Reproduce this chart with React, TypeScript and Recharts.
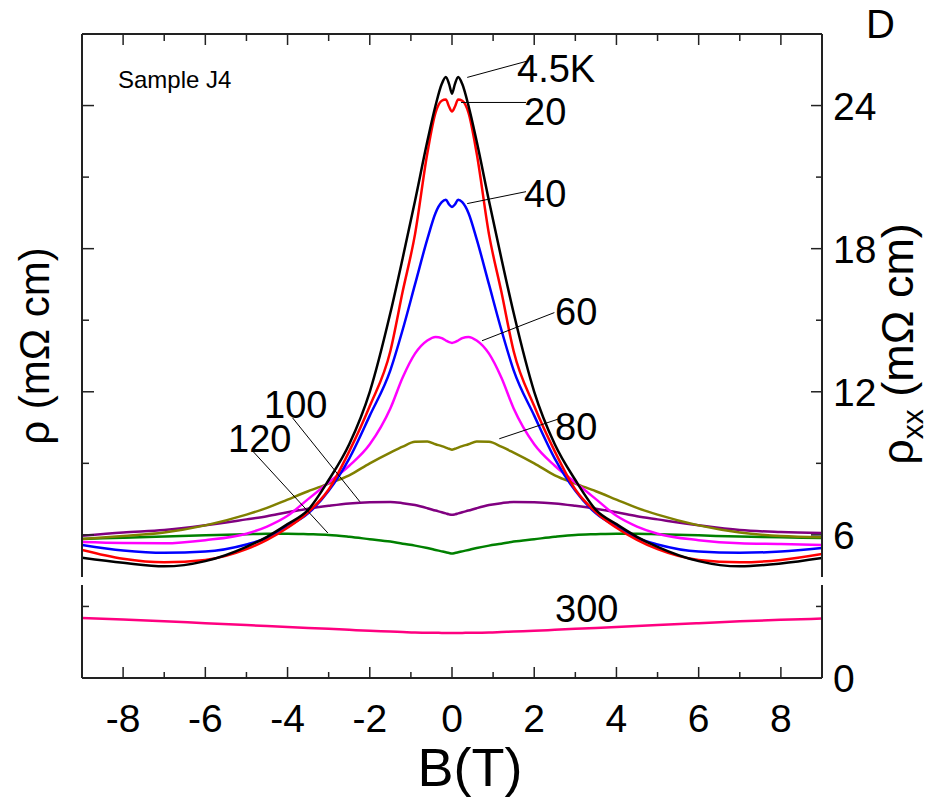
import { LineChart, Line, XAxis, YAxis, ReferenceLine } from 'recharts'

// magnetic field B (T)
const fieldB = [-9, -8, -7, -6, -5, -4.5, -4, -3.5, -3, -2.5, -2, -1.5, -1.2, -0.9, -0.6, -0.4, -0.25, -0.15, -0.07, 0,
  0.07, 0.15, 0.25, 0.4, 0.6, 0.9, 1.2, 1.5, 2, 2.5, 3, 3.5, 4, 4.5, 5, 6, 7, 8, 9]

// rho (mOhm cm) per temperature
const rho4K = [5.04, 4.83, 4.68, 4.9, 5.5, 5.92, 6.45, 7.05, 8.3, 9.8, 12.0, 15.3, 17.6, 20.0, 22.5, 24.0, 24.9, 25.2, 24.9, 24.5,
  24.9, 25.2, 24.9, 24.0, 22.5, 20.0, 17.6, 15.3, 12.0, 9.8, 8.3, 7.05, 6.45, 5.92, 5.5, 4.9, 4.68, 4.8, 5.03]
const rho20K = [5.37, 5.0, 4.85, 4.95, 5.4, 5.79, 6.3, 6.95, 7.9, 9.5, 11.4, 13.7, 16.2, 18.6, 22.0, 23.7, 24.2, 24.25, 23.95, 23.75,
  23.95, 24.25, 24.2, 23.7, 22.0, 18.6, 16.2, 13.7, 11.4, 9.5, 7.9, 6.95, 6.3, 5.79, 5.4, 4.95, 4.85, 4.95, 5.2]
const rho40K = [5.58, 5.35, 5.25, 5.3, 5.6, 5.87, 6.35, 6.9, 7.85, 9.2, 11.0, 12.9, 14.6, 16.5, 18.4, 19.5, 19.95, 20.05, 19.85, 19.75,
  19.85, 20.05, 19.95, 19.5, 18.4, 16.5, 14.6, 12.9, 11.0, 9.2, 7.85, 6.9, 6.35, 5.87, 5.6, 5.3, 5.25, 5.3, 5.45]
const rho60K = [5.7, 5.66, 5.65, 5.78, 6.05, 6.35, 6.8, 7.5, 8.2, 8.9, 9.8, 11.3, 12.6, 13.6, 14.15, 14.3, 14.25, 14.15, 14.08, 14.05,
  14.08, 14.15, 14.25, 14.3, 14.15, 13.6, 12.6, 11.3, 9.8, 8.9, 8.2, 7.5, 6.8, 6.35, 6.05, 5.78, 5.65, 5.62, 5.58]
const rho80K = [5.83, 5.95, 6.1, 6.4, 6.85, 7.13, 7.48, 7.83, 8.15, 8.5, 9.0, 9.45, 9.7, 9.9, 9.92, 9.8, 9.72, 9.66, 9.61, 9.57,
  9.61, 9.66, 9.72, 9.8, 9.92, 9.9, 9.7, 9.45, 9.0, 8.5, 8.15, 7.83, 7.48, 7.13, 6.85, 6.4, 6.1, 5.95, 5.9]
const rho100K = [5.96, 6.1, 6.2, 6.4, 6.65, 6.78, 6.95, 7.1, 7.22, 7.32, 7.37, 7.38, 7.33, 7.25, 7.12, 7.02, 6.95, 6.9, 6.86, 6.84,
  6.86, 6.9, 6.95, 7.02, 7.12, 7.25, 7.33, 7.38, 7.37, 7.32, 7.22, 7.1, 6.95, 6.78, 6.65, 6.4, 6.2, 6.12, 6.08]
const rho120K = [5.83, 5.88, 5.93, 5.98, 6.03, 6.05, 6.05, 6.03, 6.0, 5.92, 5.82, 5.72, 5.63, 5.55, 5.45, 5.37, 5.31, 5.27, 5.24, 5.22,
  5.24, 5.27, 5.31, 5.37, 5.45, 5.55, 5.63, 5.72, 5.82, 5.92, 6.0, 6.03, 6.05, 6.05, 6.03, 5.98, 5.93, 5.9, 5.87]
const rho300K = [2.52, 2.45, 2.38, 2.3, 2.22, 2.18, 2.14, 2.1, 2.06, 2.02, 1.98, 1.95, 1.93, 1.91, 1.9, 1.9, 1.89, 1.89, 1.89, 1.89,
  1.89, 1.89, 1.89, 1.9, 1.9, 1.91, 1.93, 1.95, 1.98, 2.02, 2.06, 2.1, 2.14, 2.18, 2.22, 2.3, 2.38, 2.44, 2.49]

const xTicks = [-8, -7, -6, -5, -4, -3, -2, -1, 0, 1, 2, 3, 4, 5, 6, 7, 8]
const yTicks = [0, 3, 6, 9, 12, 15, 18, 21, 24]

const data = fieldB.map((b, i) => ({
  B: b,
  t4: rho4K[i], t20: rho20K[i], t40: rho40K[i], t60: rho60K[i],
  t80: rho80K[i], t100: rho100K[i], t120: rho120K[i], t300: rho300K[i],
}))

const series = [
  { key: 't120', color: '#008000' },
  { key: 't100', color: '#800080' },
  { key: 't80', color: '#808000' },
  { key: 't60', color: '#ff00ff' },
  { key: 't40', color: '#0000ff' },
  { key: 't20', color: '#ff0000' },
  { key: 't4', color: '#000000' },
]

// leader lines from curve to its temperature label (data coords)
const leaders = [
  [[0.37, 25.18], [1.8, 25.85]],
  [[0.22, 24.13], [1.8, 24.13]],
  [[0.37, 19.89], [1.8, 20.39]],
  [[0.73, 14.14], [2.49, 15.32]],
  [[1.15, 10.03], [2.61, 10.87]],
  [[-3.88, 10.91], [-2.24, 7.39]],
  [[-4.83, 9.48], [-3.02, 6.08]],
]

const FONT = '"Liberation Sans", Arial, sans-serif'
const AX = '#222'

function BottomTick(props: any) {
  const { x, y, payload } = props
  const major = payload.value % 2 === 0
  return (
    <g>
      <line x1={x} x2={x} y1={y} y2={y - (major ? 11 : 6)} stroke={AX} strokeWidth={1.5} />
      {major && (
        <text x={x} y={y + 54} textAnchor="middle" fontSize={39} fontFamily={FONT} fill="#000">
          {payload.value}
        </text>
      )}
    </g>
  )
}

function TopTick(props: any) {
  const { x, y, payload } = props
  const major = payload.value % 2 === 0
  return <line x1={x} x2={x} y1={y} y2={y + (major ? 11 : 7)} stroke={AX} strokeWidth={1.5} />
}

function LeftTick(props: any) {
  const { x, y, payload } = props
  if (payload.value === 0) return <g />
  const major = payload.value % 6 === 0
  return <line x1={x} x2={x + (major ? 12 : 7)} y1={y} y2={y} stroke={AX} strokeWidth={1.5} />
}

function RightTick(props: any) {
  const { x, y, payload } = props
  const major = payload.value % 6 === 0
  return (
    <g>
      {payload.value !== 0 && (
        <line x1={x} x2={x - (major ? 11 : 6)} y1={y} y2={y} stroke={AX} strokeWidth={1.5} />
      )}
      {major && (
        <text x={x + 11} y={y + 14} textAnchor="start" fontSize={39} fontFamily={FONT} fill="#000">
          {payload.value}
        </text>
      )}
    </g>
  )
}

export default function App() {
  return (
    <div style={{ position: 'absolute', left: 0, top: 0, width: 946, height: 798, background: '#fff', fontFamily: FONT }}>
      <LineChart width={946} height={798} data={data} margin={{ top: 33, right: 123, bottom: 119, left: 81 }}>
        <XAxis xAxisId="bottom" dataKey="B" type="number" domain={[-9, 9]} ticks={xTicks} interval={0}
          height={1} tickSize={0} tickMargin={0} tickLine={false} tick={BottomTick}
          axisLine={{ stroke: AX, strokeWidth: 2 }} allowDataOverflow />
        <XAxis xAxisId="top" orientation="top" dataKey="B" type="number" domain={[-9, 9]} ticks={xTicks} interval={0}
          height={1} tickSize={0} tickMargin={0} tickLine={false} tick={TopTick}
          axisLine={{ stroke: AX, strokeWidth: 2 }} allowDataOverflow />
        <YAxis yAxisId="left" type="number" domain={[0, 27]} ticks={yTicks} interval={0}
          width={1} tickSize={0} tickMargin={0} tickLine={false} tick={LeftTick}
          axisLine={{ stroke: AX, strokeWidth: 2 }} allowDataOverflow />
        <YAxis yAxisId="right" orientation="right" type="number" domain={[0, 27]} ticks={yTicks} interval={0}
          width={1} tickSize={0} tickMargin={0} tickLine={false} tick={RightTick}
          axisLine={{ stroke: AX, strokeWidth: 2 }} allowDataOverflow />
        <Line xAxisId="top" yAxisId="right" dataKey="t300" type="monotone" stroke="#ff0080" strokeWidth={2.5}
          dot={false} isAnimationActive={false} />
        {series.map(s => (
          <Line key={s.key} xAxisId="bottom" yAxisId="left" dataKey={s.key} type="monotone" stroke={s.color}
            strokeWidth={2.5} dot={false} isAnimationActive={false} />
        ))}
        {leaders.map((seg, i) => (
          <ReferenceLine key={i} xAxisId="bottom" yAxisId="left" stroke="#000" strokeWidth={1}
            segment={[{ x: seg[0][0], y: seg[0][1] }, { x: seg[1][0], y: seg[1][1] }]} />
        ))}
      </LineChart>
      <svg width={946} height={798} style={{ position: 'absolute', left: 0, top: 0, pointerEvents: 'none' }}
        fontFamily={FONT} fill="#000">
        {/* axis break */}
        <rect x={78} y={577} width={9} height={8} fill="#fff" />
        <rect x={817} y={577} width={9} height={8} fill="#fff" />
        <text x={118} y={88} fontSize={24}>Sample J4</text>
        <text x={517} y={82} fontSize={38}>4.5K</text>
        <text x={524} y={125} fontSize={38}>20</text>
        <text x={524} y={207} fontSize={38}>40</text>
        <text x={555} y={325} fontSize={38}>60</text>
        <text x={555} y={440} fontSize={38}>80</text>
        <text x={264} y={418} fontSize={38}>100</text>
        <text x={228} y={452} fontSize={38}>120</text>
        <text x={555} y={622} fontSize={38}>300</text>
        <text x={866} y={38} fontSize={40}>D</text>
        <text x={470} y={786} fontSize={54} textAnchor="middle">B(T)</text>
        <text transform="translate(49,346) rotate(-90)" fontSize={42} textAnchor="middle">ρ (mΩ cm)</text>
        <text transform="translate(913,344) rotate(-90)" fontSize={45} textAnchor="middle">
          ρ<tspan fontSize={30} dy={10}>xx</tspan><tspan dy={-10}> (mΩ cm)</tspan>
        </text>
      </svg>
    </div>
  )
}
